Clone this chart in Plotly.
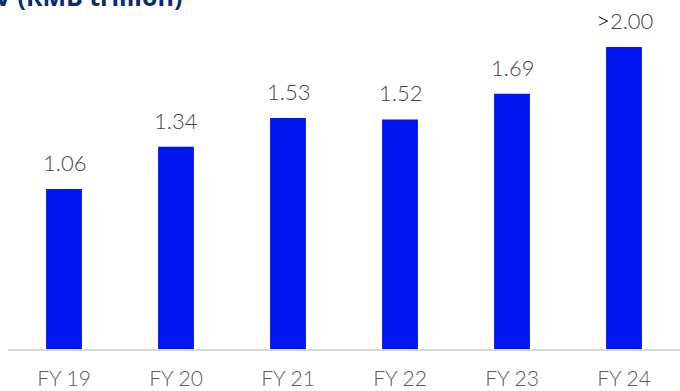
import plotly.graph_objects as go

# Fiscal years and values (RMB trillion)
years = ["FY 19", "FY 20", "FY 21", "FY 22", "FY 23", "FY 24"]
values = [1.06, 1.34, 1.53, 1.52, 1.69, 2.00]
value_labels = ["1.06", "1.34", "1.53", "1.52", "1.69",
                "<span style='color:#000000;font-size:24px'>&gt;</span>2.00"]

BAR_COLOR = "#0016EE"
LABEL_COLOR = "#454545"
FONT = "Lato, 'Noto Sans', sans-serif"

fig = go.Figure(
    go.Bar(
        x=years,
        y=values,
        marker=dict(color=BAR_COLOR, line=dict(width=0)),
        hoverinfo="skip",
    )
)

# Value labels above each bar
for yr, v, lab in zip(years, values, value_labels):
    fig.add_annotation(
        x=yr, y=v, text=lab, showarrow=False,
        yanchor="bottom", yshift=11,
        font=dict(family=FONT, size=22, color=LABEL_COLOR, weight=300),
    )

# Chart title, partly clipped at the top edge
fig.add_annotation(
    xref="paper", yref="paper", x=176 / 672, y=1.0,
    xanchor="right", yanchor="bottom", yshift=-15,
    text="<b>GMV (RMB trillion)</b>", showarrow=False,
    font=dict(family="'Open Sans', sans-serif", size=25, color="#0B2A6F"),
)

fig.update_layout(
    width=680, height=391,
    margin=dict(l=8, r=0, t=0, b=42),
    paper_bgcolor="white", plot_bgcolor="white",
    bargap=0.68,
    showlegend=False,
    xaxis=dict(
        showline=True, linecolor="#D9D9D9", linewidth=2,
        showgrid=False, ticks="outside", ticklen=10, tickcolor="rgba(0,0,0,0)",
        tickfont=dict(family=FONT, size=21, color="#595959", weight=300),
        fixedrange=True,
    ),
    yaxis=dict(
        range=[0, 349 / 151], visible=False, showgrid=False, fixedrange=True,
    ),
)

fig.write_html("out.html")
